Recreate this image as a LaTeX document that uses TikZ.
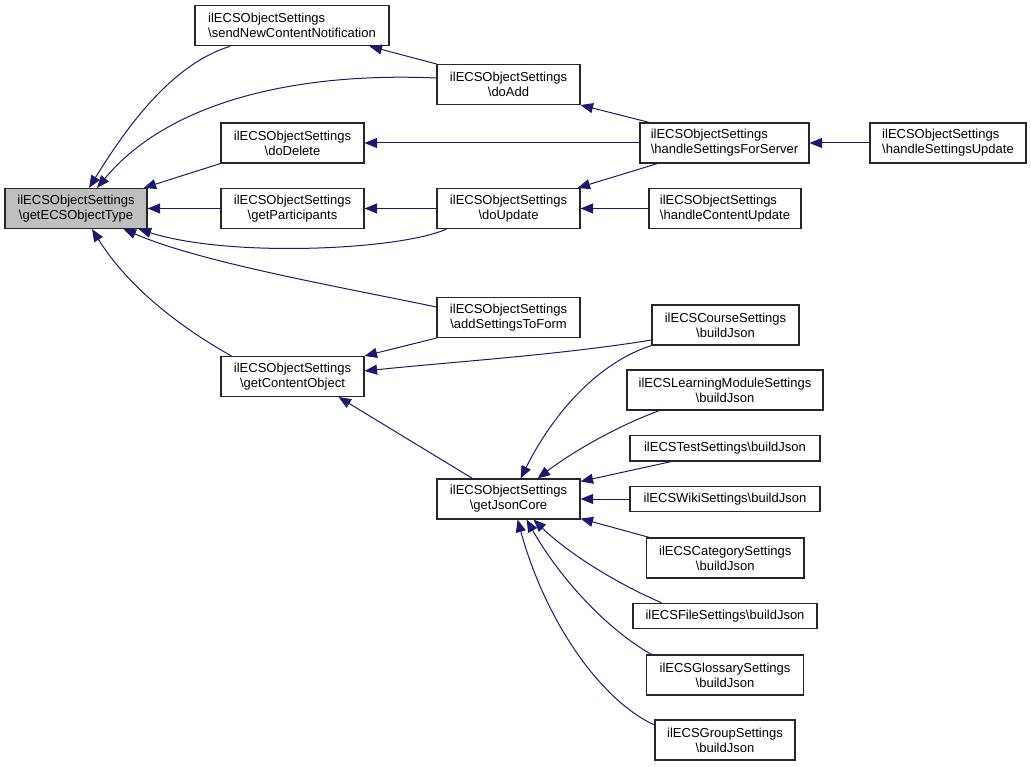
\documentclass[tikz,border=0pt]{standalone}
\usepackage{fontspec}
\setmainfont{Liberation Sans}
\usetikzlibrary{arrows.meta}
\definecolor{navy}{HTML}{191970}
\definecolor{hl}{HTML}{BFBFBF}
\newcommand\nodefont{\fontsize{13}{15}\selectfont}
\begin{document}
\begin{tikzpicture}[x=1pt,y=-1pt,
  box/.style={draw=black!85, line width=1.1pt, inner sep=0pt, font=\nodefont, align=center, minimum height=40pt},
  lbox/.style={box, align=left},
  sbox/.style={box, minimum height=25.5pt},
  edge/.style={draw=navy, line width=1pt, -{Triangle[length=12.5pt,width=10pt,fill=navy]}}]
\useasboundingbox (0,0) rectangle (1031,767);
% nodes
\node[box, fill=hl, minimum width=142pt] (gt) at (76,208.5) {ilECSObjectSettings\\\textbackslash getECSObjectType};
\node[lbox, minimum width=194pt] (snc) at (292,25.75) {ilECSObjectSettings\\\textbackslash sendNewContentNotification};
\node[box, minimum width=143pt] (dadd) at (508.5,84.5) {ilECSObjectSettings\\\textbackslash doAdd};
\node[box, minimum width=143pt] (ddel) at (292.5,143) {ilECSObjectSettings\\\textbackslash doDelete};
\node[box, minimum width=143pt] (gpart) at (292.5,208.5) {ilECSObjectSettings\\\textbackslash getParticipants};
\node[box, minimum width=143pt] (dupd) at (508.5,208.5) {ilECSObjectSettings\\\textbackslash doUpdate};
\node[lbox, minimum width=169pt] (hsfs) at (724.5,143) {ilECSObjectSettings\\\textbackslash handleSettingsForServer};
\node[lbox, minimum width=156pt] (hsu) at (948,143) {ilECSObjectSettings\\\textbackslash handleSettingsUpdate};
\node[lbox, minimum width=152pt] (hcu) at (725,208.5) {ilECSObjectSettings\\\textbackslash handleContentUpdate};
\node[box, minimum width=143pt] (asf) at (508.5,317.5) {ilECSObjectSettings\\\textbackslash addSettingsToForm};
\node[box, minimum width=143pt] (gco) at (292.5,376.5) {ilECSObjectSettings\\\textbackslash getContentObject};
\node[box, minimum width=147pt] (course) at (725.5,325) {ilECSCourseSettings\\\textbackslash buildJson};
\node[box, minimum width=196pt] (lms) at (725,390) {ilECSLearningModuleSettings\\\textbackslash buildJson};
\node[sbox, minimum width=190pt] (test) at (725,448.25) {ilECSTestSettings\textbackslash buildJson};
\node[box, minimum width=143pt] (gjc) at (508.5,499) {ilECSObjectSettings\\\textbackslash getJsonCore};
\node[sbox, minimum width=190pt] (wiki) at (725,499) {ilECSWikiSettings\textbackslash buildJson};
\node[box, minimum width=157.5pt] (cat) at (725.25,558) {ilECSCategorySettings\\\textbackslash buildJson};
\node[sbox, minimum width=184pt] (file) at (725,616) {ilECSFileSettings\textbackslash buildJson};
\node[box, minimum width=157pt] (gloss) at (725,675) {ilECSGlossarySettings\\\textbackslash buildJson};
\node[box, minimum width=140pt] (group) at (725,740) {ilECSGroupSettings\\\textbackslash buildJson};
% edges into getECSObjectType
\draw[edge] ([xshift=-62pt]snc.south) .. controls (170,65) and (125,130) .. ([xshift=13pt]gt.north);
\draw[edge] ([yshift=6.5pt]dadd.west) .. controls (300,72) and (170,100) .. ([xshift=21pt]gt.north);
\draw[edge] (ddel.south west) -- ([xshift=-4pt]gt.north east);
\draw[edge] (gpart.west) -- (gt.east);
\draw[edge] ([xshift=10pt]dupd.south west) .. controls (400,250) and (230,258) .. ([xshift=-9pt]gt.south east);
\draw[edge] ([yshift=10.5pt]asf.west) .. controls (330,285) and (200,262) .. ([xshift=-24pt]gt.south east);
\draw[edge] ([xshift=11pt]gco.north west) .. controls (185,330) and (130,290) .. ([xshift=16pt]gt.south);
% other edges
\draw[edge] (dadd.north west) -- ([xshift=-20pt]snc.south east);
\draw[edge] ([xshift=10pt]hsfs.north west) -- (dadd.south east);
\draw[edge] (hsfs.west) -- (ddel.east);
\draw[edge] ([xshift=18pt]hsfs.south west) -- ([xshift=-3pt]dupd.north east);
\draw[edge] (hsu.west) -- (hsfs.east);
\draw[edge] (dupd.west) -- (gpart.east);
\draw[edge] (hcu.west) -- (dupd.east);
\draw[edge] (asf.south west) -- (gco.north east);
\draw[edge] ([yshift=-15pt]course.west) .. controls (560,355) and (450,362) .. ([yshift=5.5pt]gco.east);
\draw[edge] ([xshift=36pt]gjc.north west) -- ([xshift=-26pt]gco.south east);
% edges into getJsonCore
\draw[edge] (course.south west) .. controls (600,362) and (555,410) .. ([xshift=-60pt]gjc.north east);
\draw[edge] ([xshift=33pt]lms.south west) .. controls (620,425) and (575,450) .. ([xshift=-43pt]gjc.north east);
\draw[edge] ([xshift=42pt]test.south west) -- ([yshift=-3pt]gjc.north east);
\draw[edge] (wiki.west) -- (gjc.east);
\draw[edge] ([xshift=3.5pt]cat.north west) -- ([yshift=1pt]gjc.south east);
\draw[edge] ([xshift=29pt]file.north west) .. controls (620,585) and (570,555) .. ([xshift=-47pt]gjc.south east);
\draw[edge] ([xshift=5.5pt]gloss.north west) .. controls (600,625) and (555,570) .. ([xshift=-54pt]gjc.south east);
\draw[edge] ([yshift=15pt]group.west) .. controls (600,700) and (545,620) .. ([xshift=-63pt]gjc.south east);
\end{tikzpicture}
\end{document}
